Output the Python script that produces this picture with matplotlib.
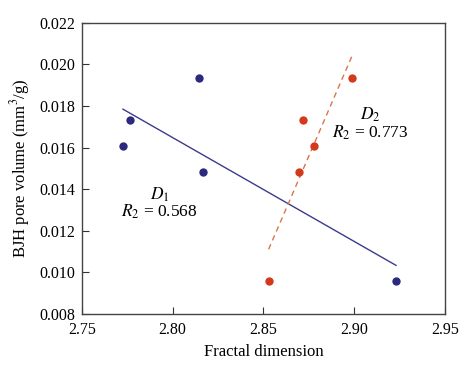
import matplotlib
matplotlib.use("Agg")
import matplotlib.pyplot as plt

# data
d1_x = [2.7727, 2.7768, 2.8147, 2.8167, 2.9229]
d1_y = [0.01609, 0.01734, 0.01936, 0.01482, 0.00960]
d2_x = [2.8528, 2.8697, 2.8719, 2.8778, 2.8989]
d2_y = [0.00960, 0.01482, 0.01734, 0.01609, 0.01936]

# fitted lines (endpoints as drawn)
fit1_x = [2.7727, 2.9229]
fit1_y = [0.01785, 0.01034]
fit2_x = [2.8528, 2.8989]
fit2_y = [0.01111, 0.02045]

xticks = [2.75, 2.80, 2.85, 2.90, 2.95]
yticks = [0.008, 0.010, 0.012, 0.014, 0.016, 0.018, 0.020, 0.022]

plt.rcParams['font.family'] = ['Liberation Serif', 'DejaVu Serif']
plt.rcParams['mathtext.fontset'] = 'stix'

fig = plt.figure(figsize=(4.74, 3.69), dpi=100)
ax = fig.add_axes([0.1724, 0.149, 0.767, 0.789])

blue = '#2b2a7e'
red = '#d4391c'

ax.plot(fit1_x, fit1_y, color='#3b3b8c', lw=1.0)
ax.plot(fit2_x, fit2_y, color='#d8764e', lw=1.0, ls=(0, (4, 3)))
ax.plot(d1_x, d1_y, 'o', color=blue, ms=6, mec='none')
ax.plot(d2_x, d2_y, 'o', color=red, ms=6, mec='none')

ax.text(2.7927, 0.01372, '$D_1$', ha='center', va='center', fontsize=12.5)
ax.text(2.7927, 0.01292, '$R_2$ = 0.568', ha='center', va='center', fontsize=12.5)
ax.text(2.9086, 0.01756, '$D_2$', ha='center', va='center', fontsize=12.5)
ax.text(2.9086, 0.01671, '$R_2$ = 0.773', ha='center', va='center', fontsize=12.5)

ax.set_xlim(2.75, 2.95)
ax.set_ylim(0.008, 0.022)
ax.set_xticks(xticks)
ax.set_yticks(yticks)
ax.set_xticklabels(['%.2f' % v for v in xticks])
ax.set_yticklabels(['%.3f' % v for v in yticks])
ax.tick_params(direction='in', length=5, width=0.8, labelsize=11.5, color='#333333')
ax.tick_params(axis='x', pad=6)
ax.tick_params(axis='y', pad=5)
for s in ax.spines.values():
    s.set_color('#444444')
    s.set_linewidth(1.0)

ax.set_xlabel('Fractal dimension', fontsize=12, labelpad=4)
ax.set_ylabel('BJH pore volume (mm$^3$/g)', fontsize=12, labelpad=5)

fig.savefig('out.png', dpi=100)
